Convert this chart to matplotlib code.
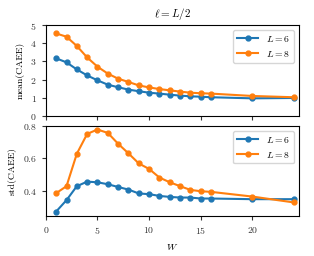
import matplotlib
matplotlib.use('Agg')
import matplotlib.pyplot as plt
import numpy as np

# disorder strengths
W = [1, 2, 3, 4, 5, 6, 7, 8, 9, 10, 11, 12, 13, 14, 15, 16, 20, 24]

# mean(CAEE)
mean_L6 = [3.17, 2.95, 2.56, 2.23, 1.96, 1.72, 1.58, 1.45, 1.36, 1.28,
           1.23, 1.17, 1.12, 1.08, 1.06, 1.03, 0.97, 0.99]
mean_L8 = [4.54, 4.36, 3.85, 3.22, 2.71, 2.33, 2.05, 1.87, 1.68, 1.57,
           1.48, 1.41, 1.34, 1.28, 1.25, 1.23, 1.10, 1.03]

# std(CAEE)
std_L6 = [0.273, 0.343, 0.429, 0.457, 0.453, 0.441, 0.424, 0.408, 0.384, 0.380,
          0.369, 0.363, 0.359, 0.359, 0.353, 0.353, 0.349, 0.349]
std_L8 = [0.386, 0.429, 0.629, 0.751, 0.778, 0.757, 0.690, 0.631, 0.569, 0.535,
          0.482, 0.453, 0.429, 0.406, 0.398, 0.394, 0.365, 0.329]

plt.rcParams['font.family'] = 'serif'
plt.rcParams['font.serif'] = ['cmr10', 'DejaVu Serif']
plt.rcParams['mathtext.fontset'] = 'cm'
plt.rcParams['axes.formatter.use_mathtext'] = True
plt.rcParams['font.size'] = 7

fig = plt.figure(figsize=(3.14, 2.56), dpi=100)
ax1 = fig.add_axes([0.146, 0.547, 0.806, 0.355])
ax2 = fig.add_axes([0.146, 0.156, 0.806, 0.352], sharex=ax1)

c6, c8 = '#1f77b4', '#ff7f0e'
kw = dict(marker='o', markersize=3.5, linewidth=1.5)

ax1.plot(W, mean_L6, color=c6, label='$L=6$', **kw)
ax1.plot(W, mean_L8, color=c8, label='$L=8$', **kw)
ax1.set_ylim(0, 5)
ax1.set_yticks([0, 1, 2, 3, 4, 5])
ax1.set_ylabel('mean(CAEE)')
ax1.set_title(r'$\ell=L/2$', fontsize=8)
ax1.legend(loc='upper right', fontsize=7, handlelength=2.2)
ax1.tick_params(labelbottom=False)

ax2.plot(W, std_L6, color=c6, label='$L=6$', **kw)
ax2.plot(W, std_L8, color=c8, label='$L=8$', **kw)
ax2.set_ylim(0.245, 0.8)
ax2.set_yticks([0.4, 0.6, 0.8])
ax2.set_ylabel('std(CAEE)')
ax2.set_xlabel('$W$')
ax2.set_xlim(0, 24.5)
ax2.set_xticks([0, 5, 10, 15, 20])
ax2.legend(loc='upper right', fontsize=7, handlelength=2.2)

for ax in (ax1, ax2):
    ax.tick_params(labelsize=7, colors='#333333', width=0.8, length=3)
    for s in ax.spines.values():
        s.set_linewidth(0.8)

fig.savefig('out.png', dpi=100)
